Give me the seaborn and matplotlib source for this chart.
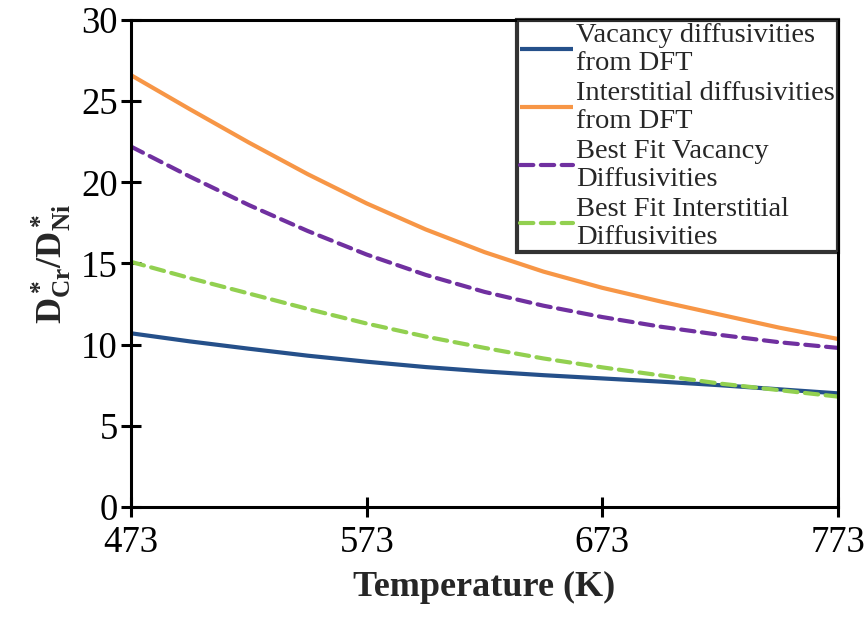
import numpy as np
import pandas as pd
import matplotlib
matplotlib.use("Agg")
import matplotlib.pyplot as plt
import seaborn as sns

temperature = [473, 498, 523, 548, 573, 598, 623, 648, 673, 698, 723, 748, 773]
vac_dft = [10.7, 10.2, 9.75, 9.32, 8.95, 8.62, 8.35, 8.12, 7.92, 7.72, 7.5, 7.25, 7.0]
int_dft = [26.6, 24.5, 22.45, 20.5, 18.7, 17.1, 15.7, 14.5, 13.5, 12.65, 11.85, 11.05, 10.35]
fit_vac = [22.2, 20.35, 18.6, 17.0, 15.55, 14.3, 13.25, 12.4, 11.7, 11.1, 10.6, 10.15, 9.8]
fit_int = [15.1, 14.1, 13.15, 12.2, 11.3, 10.5, 9.8, 9.15, 8.6, 8.1, 7.6, 7.2, 6.8]
x_ticks = [473, 573, 673, 773]
y_ticks = [0, 5, 10, 15, 20, 25, 30]

labels = ["Vacancy diffusivities\nfrom DFT",
          "Interstitial diffusivities\nfrom DFT",
          "Best Fit Vacancy\nDiffusivities",
          "Best Fit Interstitial\nDiffusivities"]
colors = ["#25508A", "#F79646", "#7030A0", "#92D050"]
dashed = [False, False, True, True]

sns.set_style("white")
plt.rcParams['font.family'] = ['Liberation Serif', 'DejaVu Serif']
plt.rcParams['mathtext.fontset'] = 'custom'
plt.rcParams['mathtext.rm'] = 'Liberation Serif'
plt.rcParams['mathtext.bf'] = 'Liberation Serif:bold'
plt.rcParams['mathtext.it'] = 'Liberation Serif:italic'

fig = plt.figure(figsize=(8.68, 6.39), dpi=100)
ax = fig.add_axes([0.151, 0.2066, 0.8144, 0.7621])

series = [vac_dft, int_dft, fit_vac, fit_int]
for vals, lab, col, d in zip(series, labels, colors, dashed):
    df = pd.DataFrame({"T": temperature, "v": vals})
    sns.lineplot(data=df, x="T", y="v", ax=ax, color=col, linewidth=3.0,
                 label=lab, linestyle="--" if d else "-")
for line, d in zip(ax.get_lines(), dashed):
    if d:
        line.set_dashes((3.2, 1.8))
        line.set_dash_capstyle("round")
    line.set_solid_capstyle("butt")
    line.set_solid_joinstyle("round")

ax.set_xlim(473, 773)
ax.set_ylim(0, 30)
ax.set_xticks(x_ticks)
ax.set_yticks(y_ticks)
ax.tick_params(axis='both', direction='inout', length=15, width=2.2,
               labelsize=26.5, colors='black', bottom=True, left=True,
               top=False, right=False)
ax.tick_params(axis='y', pad=2)
ax.tick_params(axis='x', pad=6)
for s in ax.spines.values():
    s.set_linewidth(2.2)
    s.set_color('black')
    s.set_visible(True)

ax.set_xlabel("Temperature (K)", fontsize=26, fontweight='bold', labelpad=8)
ax.set_ylabel(r"$\mathbf{D^*_{Cr}/D^*_{Ni}}$", fontsize=26, labelpad=6)

leg = ax.legend(loc='upper right', bbox_to_anchor=(1.0, 1.0), borderaxespad=0,
                fontsize=20.5, frameon=True, fancybox=False, edgecolor='black',
                handlelength=1.85, handletextpad=0.12, labelspacing=0.18,
                borderpad=0.1)
leg.get_frame().set_linewidth(3)
for t in leg.get_texts():
    t.set_linespacing(1.15)

fig.savefig("out.png", dpi=100)
